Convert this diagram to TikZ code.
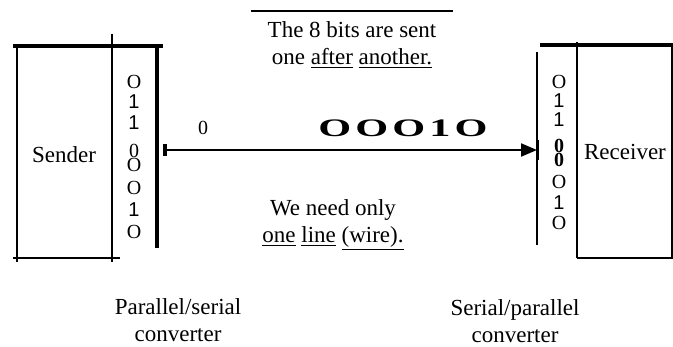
\documentclass[tikz,border=0pt]{standalone}
\usepackage{fontspec}
\setmainfont{Liberation Serif}
\newfontfamily\bitsans{Liberation Sans}
\usetikzlibrary{arrows.meta}
\tikzset{
  txt/.style={font=\fontsize{11.5}{13.5}\selectfont, align=center, inner sep=0pt},
  bit/.style={font=\fontsize{10}{12}\selectfont, inner sep=0pt},
  wall/.style={line width=0.8pt},
  heavy/.style={line width=2pt},
  wire/.style={line width=1pt, {Bar[width=6pt,line width=2pt]}-{Triangle[length=8pt,width=6.5pt]}},
}
\newcommand{\one}{{\bitsans 1}}

\begin{document}
\begin{tikzpicture}[x=0.5pt, y=-0.5pt]
  \useasboundingbox (0,0) rectangle (673,347);
  % sender side
  \draw[heavy] (13,46) -- (163,46);
  \draw[wall] (17,46) -- (17,262);
  \draw[wall] (112,34) -- (112,262);
  \draw[wall] (13,258) -- (120,258);
  \draw[line width=1.6pt] (157,46) -- (157,248);
  \node[txt] (sender) at (64,155) {Sender};
  \foreach \b/\y in {O/82,\one/102,\one/123,0/151,O/165,O/188,\one/210,O/232}
    \node[bit] (ps\y) at (134,\y) {\b};
  % receiver side
  \draw[heavy] (540,45) -- (673,45);
  \draw[wall] (577,42) -- (577,258);
  \draw[wall] (577,258) -- (673,258);
  \draw[wall] (672,45) -- (672,258);
  \draw[wall] (537,52) -- (537,245);
  \node[txt] (receiver) at (625,152) {Receiver};
  \foreach \b/\y in {O/82,\one/101,\one/120,\textbf{0}/146,\textbf{0}/160,O/182,\one/203,O/223}
    \node[bit] (sp\y) at (559,\y) {\b};
  % serial line
  \coordinate (out) at (163,150);
  \coordinate (in) at (537,150);
  \draw[wire] (out) -- (in);
  \draw[line width=1.5pt] ([yshift=5pt]in) -- ([yshift=-5pt]in);
  \node[bit] (first) at (203,128) {0};
  \node[inner sep=0pt, xscale=1.68, font=\bfseries\fontsize{12.6}{14}\selectfont] (stream) at (403,128)
    {O\kern1.2pt O\kern1.2pt O\kern1.2pt 1\kern1.2pt O};
  % notes
  \draw[wall] (251,11) -- (453,11);
  \node[txt] (note1) at (352,45) {The 8 bits are sent\\one \underline{after} \underline{another.}};
  \node[txt] (note2) at (333,225) {We need only\\\underline{one} \underline{line} \underline{(wire).}};
  \node[txt] (psconv) at (178,320) {Parallel/serial\\converter};
  \node[txt] (spconv) at (515,321) {Serial/parallel\\converter};
\end{tikzpicture}
\end{document}
